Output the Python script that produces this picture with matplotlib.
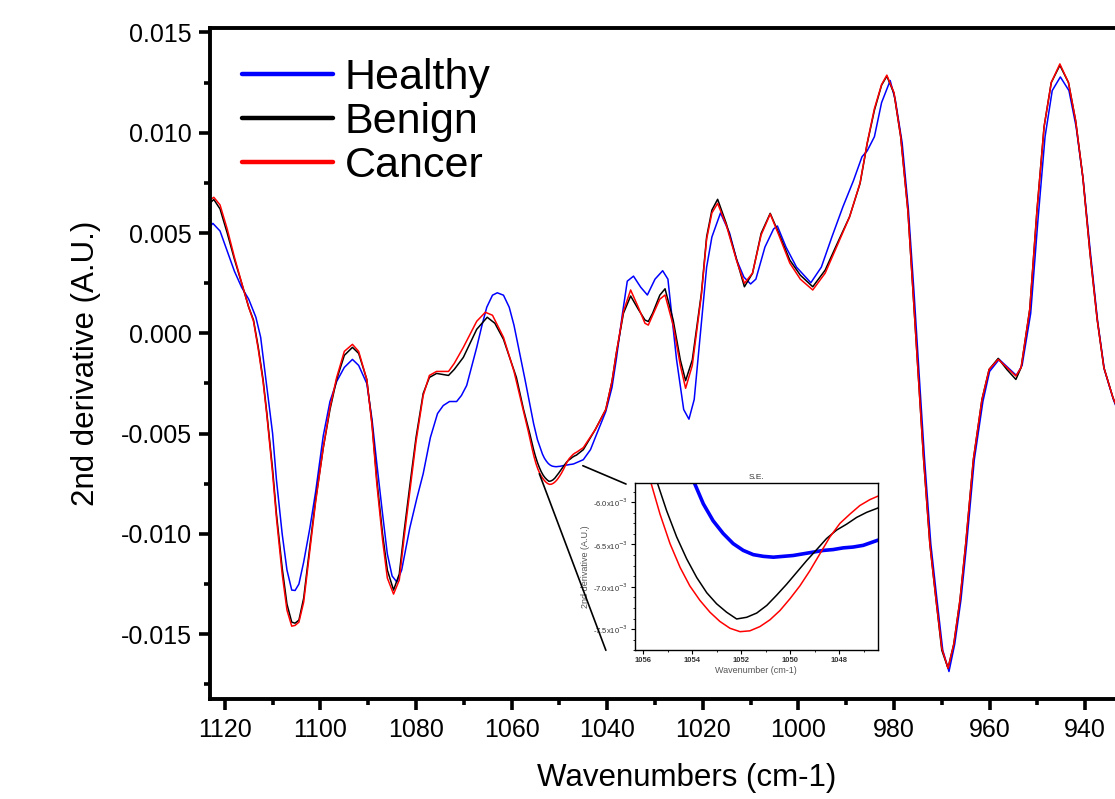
import numpy as np
import matplotlib
matplotlib.use("Agg")
import matplotlib.pyplot as plt
from matplotlib.lines import Line2D
from matplotlib.patches import ConnectionPatch
from matplotlib.ticker import MultipleLocator, FuncFormatter

plt.rcParams['font.family'] = ['Liberation Sans', 'DejaVu Sans']

# ---------------- DATA (wavenumber, 2nd derivative) ----------------
healthy = np.array([
    (1124.0, 0.0051), (1122.5, 0.00548), (1121.0, 0.0051), (1119.5, 0.0041), (1118.0, 0.0031),
    (1116.5, 0.0023), (1115.0, 0.0017), (1113.5, 0.0008), (1112.5, -0.0002), (1111.2, -0.0027),
    (1110.0, -0.0050), (1109.2, -0.0073), (1108.0, -0.0100), (1107.0, -0.0118), (1106.0, -0.0128),
    (1105.3, -0.01282), (1104.5, -0.0125), (1103.5, -0.0114), (1102.2, -0.0097), (1101.0, -0.0079),
    (1099.4, -0.0051), (1098.0, -0.0034), (1096.6, -0.0024), (1095.0, -0.0017), (1093.3, -0.0013),
    (1092.0, -0.0016), (1090.3, -0.0025), (1089.2, -0.0043), (1088.2, -0.0065), (1087.0, -0.0090),
    (1086.0, -0.0110), (1085.0, -0.0121), (1084.0, -0.0124), (1083.0, -0.0118), (1081.3, -0.0097),
    (1079.8, -0.0082), (1078.5, -0.0070), (1077.0, -0.0052), (1075.5, -0.0040), (1074.3, -0.0036),
    (1073.0, -0.0034), (1071.5, -0.0034), (1070.5, -0.0031), (1069.4, -0.0026), (1068.3, -0.0016),
    (1067.3, -0.0007), (1066.2, 0.0004), (1065.2, 0.0013), (1064.0, 0.0019), (1063.0, 0.00202),
    (1061.7, 0.0019), (1060.5, 0.0013), (1059.5, 0.0004), (1058.3, -0.0010), (1057.2, -0.0023),
    (1056.3, -0.0034), (1055.4, -0.0045), (1054.6, -0.0053), (1053.92, -0.00577), (1053.55, -0.00602),
    (1053.15, -0.00622), (1052.74, -0.00637), (1052.33, -0.00649), (1051.92, -0.00657), (1051.51, -0.00662),
    (1051.10, -0.00664), (1050.69, -0.00665), (1050.29, -0.00664), (1049.88, -0.00663), (1049.47, -0.00661),
    (1049.06, -0.00659), (1048.65, -0.00657), (1048.25, -0.00656), (1047.84, -0.00654), (1047.43, -0.00653),
    (1047.02, -0.00651), (1046.43, -0.00645), (1045.0, -0.0063), (1043.5, -0.0058), (1042.5, -0.0052),
    (1040.3, -0.0039), (1039.0, -0.0027), (1038.1, -0.0013), (1036.8, 0.0010), (1035.8, 0.0026),
    (1034.5, 0.00285), (1033.0, 0.0023), (1031.6, 0.00191), (1030.0, 0.0027), (1028.4, 0.00312),
    (1027.3, 0.0027), (1026.3, 0.0005), (1025.5, -0.0013), (1024.0, -0.0038), (1022.9, -0.00428),
    (1021.8, -0.0033), (1020.7, -0.0005), (1019.2, 0.0033), (1018.1, 0.0048), (1016.3, 0.0060),
    (1014.4, 0.0050), (1012.9, 0.00365), (1011.4, 0.0028), (1010.0, 0.00246), (1008.9, 0.0027),
    (1007.0, 0.0043), (1005.2, 0.0052), (1004.4, 0.00535), (1002.6, 0.0043), (1000.4, 0.0033),
    (997.4, 0.00252), (995.2, 0.0033), (993.0, 0.0048), (990.7, 0.0063), (988.5, 0.0076),
    (986.7, 0.0088), (985.6, 0.0091), (984.1, 0.0098), (982.6, 0.0115), (980.8, 0.0126),
    (979.7, 0.0116), (978.3, 0.0095), (977.0, 0.0062), (975.8, 0.0020), (974.7, -0.0022),
    (973.6, -0.0063), (972.3, -0.0105), (971.0, -0.0133), (969.8, -0.0158), (968.5, -0.01686),
    (967.3, -0.0155), (966.0, -0.0133), (964.8, -0.0105), (963.2, -0.0063), (961.4, -0.0034),
    (960.0, -0.0019), (958.0, -0.0013), (956.2, -0.0017), (954.4, -0.0021), (953.2, -0.0016),
    (951.4, 0.0010), (949.9, 0.0056), (948.4, 0.0098), (946.9, 0.0121), (945.2, 0.01278),
    (943.4, 0.0121), (941.9, 0.0103), (940.4, 0.0076), (938.9, 0.0040), (937.4, 0.0006),
    (936.0, -0.0018), (934.1, -0.0033), (932.0, -0.0046),
])

benign = np.array([
    (1124.0, 0.0063), (1122.3, 0.00667), (1121.0, 0.0062), (1119.5, 0.0050), (1118.0, 0.0037),
    (1116.1, 0.0022), (1115.0, 0.0013), (1114.0, 0.00066), (1113.0, -0.0007), (1112.0, -0.0023),
    (1111.2, -0.0040), (1110.0, -0.0068), (1109.2, -0.0090), (1108.0, -0.0117), (1107.0, -0.0135),
    (1106.0, -0.0144), (1105.3, -0.01445), (1104.5, -0.0143), (1103.5, -0.0132), (1102.2, -0.0106),
    (1101.0, -0.0083), (1099.4, -0.0057), (1098.0, -0.0038), (1096.6, -0.0023), (1095.0, -0.0011),
    (1093.3, -0.0007), (1092.0, -0.0010), (1090.3, -0.0023), (1089.2, -0.0045), (1088.2, -0.0073),
    (1087.0, -0.0100), (1086.0, -0.0118), (1084.7, -0.0128), (1083.5, -0.0120), (1082.5, -0.0099),
    (1081.3, -0.0076), (1080.0, -0.0052), (1078.5, -0.0030), (1077.2, -0.0022), (1075.7, -0.0020),
    (1073.2, -0.0021), (1072.0, -0.0018), (1070.1, -0.0012), (1067.3, 0.0002), (1065.1, 0.0008),
    (1063.5, 0.0005), (1061.7, -0.0003), (1059.0, -0.0022), (1057.5, -0.0038), (1056.2, -0.0050),
    (1055.43, -0.00577), (1055.05, -0.0061), (1054.64, -0.00641), (1054.23, -0.00667), (1053.82, -0.00689),
    (1053.41, -0.00707), (1053.01, -0.0072), (1052.60, -0.0073), (1052.19, -0.00738), (1051.78, -0.00736),
    (1051.37, -0.00731), (1050.96, -0.00722), (1050.56, -0.0071), (1050.15, -0.00697), (1049.74, -0.00683),
    (1049.33, -0.00669), (1048.92, -0.00656), (1048.52, -0.00643), (1048.11, -0.00633), (1047.70, -0.00626),
    (1047.29, -0.00618), (1046.88, -0.00612), (1046.43, -0.00607), (1045.0, -0.0058), (1042.5, -0.0048),
    (1040.3, -0.0038), (1039.0, -0.0024), (1038.1, -0.0010), (1036.6, 0.0010), (1035.1, 0.00186),
    (1033.5, 0.0012), (1032.1, 0.00066), (1031.4, 0.00059), (1030.5, 0.0010), (1029.0, 0.0019),
    (1027.9, 0.00222), (1026.2, 0.00066), (1024.7, -0.00133), (1023.6, -0.00236), (1022.2, -0.00133),
    (1020.3, 0.00199), (1019.2, 0.00481), (1018.1, 0.00614), (1016.9, 0.00668), (1015.1, 0.00548),
    (1012.9, 0.00365), (1011.3, 0.00232), (1009.6, 0.00299), (1007.8, 0.00498), (1005.9, 0.00598),
    (1004.1, 0.00498), (1001.8, 0.00365), (999.6, 0.0029), (997.0, 0.00232), (994.4, 0.00315),
    (992.2, 0.00431), (989.3, 0.00581), (987.1, 0.00747), (985.6, 0.00947), (984.1, 0.01112),
    (982.6, 0.01237), (981.5, 0.01282), (980.0, 0.01196), (978.6, 0.0098), (977.1, 0.00614),
    (976.0, 0.00199), (974.9, -0.00216), (973.8, -0.00631), (972.5, -0.0105), (971.2, -0.0133),
    (970.0, -0.0158), (968.7, -0.01669), (967.5, -0.0155), (966.2, -0.0133), (965.0, -0.0105),
    (963.4, -0.0063), (961.6, -0.0033), (960.1, -0.0018), (958.2, -0.00125), (956.4, -0.0018),
    (954.5, -0.0023), (953.4, -0.0017), (951.6, 0.0012), (950.1, 0.0061), (948.6, 0.0103),
    (947.1, 0.0125), (945.3, 0.01336), (943.5, 0.0125), (942.0, 0.0106), (940.5, 0.0078),
    (939.0, 0.0040), (937.5, 0.0007), (936.1, -0.0017), (934.2, -0.0032), (932.0, -0.0045),
])

cancer = np.array([
    (1124.0, 0.0065), (1122.3, 0.00678), (1121.0, 0.0064), (1119.5, 0.0052), (1118.0, 0.0038),
    (1116.1, 0.0022), (1115.0, 0.0013), (1114.0, 0.0006), (1113.0, -0.0008), (1112.0, -0.0024),
    (1111.2, -0.0041), (1110.0, -0.0070), (1109.2, -0.0092), (1108.0, -0.0120), (1107.0, -0.0138),
    (1106.0, -0.0146), (1105.3, -0.01456), (1104.5, -0.0144), (1103.5, -0.0134), (1102.2, -0.0108),
    (1101.0, -0.0084), (1099.4, -0.0057), (1098.0, -0.0037), (1096.6, -0.0022), (1095.0, -0.0009),
    (1093.3, -0.00055), (1092.0, -0.0009), (1090.3, -0.0023), (1089.2, -0.0046), (1088.2, -0.0075),
    (1087.0, -0.0103), (1086.0, -0.0122), (1084.7, -0.0130), (1083.5, -0.0123), (1082.5, -0.0102),
    (1081.3, -0.0079), (1080.0, -0.0054), (1078.5, -0.0031), (1077.2, -0.0021), (1075.7, -0.0019),
    (1073.2, -0.0019), (1072.0, -0.0015), (1070.1, -0.0007), (1067.3, 0.0006), (1065.5, 0.00105),
    (1064.0, 0.0009), (1061.7, -0.0002), (1059.5, -0.0019), (1058.0, -0.0034), (1056.5, -0.0049),
    (1055.69, -0.00577), (1055.32, -0.00614), (1054.91, -0.00649), (1054.50, -0.00677), (1054.10, -0.00699),
    (1053.69, -0.00716), (1053.28, -0.0073), (1052.87, -0.00741), (1052.46, -0.00749), (1052.05, -0.00753),
    (1051.65, -0.00752), (1051.24, -0.00747), (1050.83, -0.00739), (1050.42, -0.00728), (1050.01, -0.00714),
    (1049.61, -0.00699), (1049.20, -0.00681), (1048.79, -0.00661), (1048.38, -0.00641), (1047.97, -0.00625),
    (1047.56, -0.00614), (1047.16, -0.00604), (1046.75, -0.00597), (1046.43, -0.00593), (1045.0, -0.0057),
    (1042.5, -0.0048), (1040.3, -0.0038), (1039.0, -0.0024), (1038.1, -0.0010), (1036.6, 0.0011),
    (1035.1, 0.00216), (1033.5, 0.0013), (1032.1, 0.0005), (1031.4, 0.00041), (1030.5, 0.0009),
    (1029.0, 0.0017), (1027.9, 0.00191), (1026.2, 0.0004), (1024.7, -0.0016), (1023.6, -0.00274),
    (1022.2, -0.0016), (1020.3, 0.0019), (1019.2, 0.0047), (1018.1, 0.0060), (1016.9, 0.00648),
    (1015.1, 0.0054), (1012.9, 0.0036), (1011.3, 0.00249), (1009.6, 0.0030), (1007.8, 0.0049),
    (1005.9, 0.00595), (1004.1, 0.0049), (1001.8, 0.0035), (999.6, 0.0027), (997.0, 0.00216),
    (994.4, 0.0030), (992.2, 0.0042), (989.3, 0.0058), (987.1, 0.0075), (985.6, 0.0095),
    (984.1, 0.0112), (982.6, 0.0124), (981.5, 0.01287), (980.0, 0.0120), (978.6, 0.0098),
    (977.1, 0.0061), (976.0, 0.0020), (974.9, -0.0022), (973.8, -0.0063), (972.5, -0.0105),
    (971.2, -0.0133), (970.0, -0.0157), (968.7, -0.0167), (967.5, -0.0155), (966.2, -0.0133),
    (965.0, -0.0105), (963.4, -0.0063), (961.6, -0.0033), (960.1, -0.0018), (958.2, -0.0013),
    (956.4, -0.0017), (954.5, -0.00213), (953.4, -0.0017), (951.6, 0.0012), (950.1, 0.0061),
    (948.6, 0.0103), (947.1, 0.0125), (945.3, 0.01343), (943.5, 0.0125), (942.0, 0.0106),
    (940.5, 0.0078), (939.0, 0.0040), (937.5, 0.0007), (936.1, -0.0017), (934.2, -0.0032),
    (932.0, -0.0045),
])

series_names = ["Healthy", "Benign", "Cancer"]
series_colors = ["#0000ff", "#000000", "#ff0000"]
x_ticks = [1120, 1100, 1080, 1060, 1040, 1020, 1000, 980, 960, 940]
y_ticks = [-0.015, -0.010, -0.005, 0.000, 0.005, 0.010, 0.015]
inset_x_ticks = [1056, 1054, 1052, 1050, 1048]
inset_y_ticks = [-0.0075, -0.0070, -0.0065, -0.0060]

# ---------------- FIGURE ----------------
W, H = 1115, 799
fig = plt.figure(figsize=(W / 100, H / 100), dpi=100)
ax = fig.add_axes([210 / W, 100 / H, 923 / W, 671 / H])

for data, name, col in zip([healthy, benign, cancer], series_names, series_colors):
    ax.plot(data[:, 0], data[:, 1], color=col, lw=1.1, label=name)

ax.set_xlim(1123.1, 930.0)
ax.set_ylim(-0.01823, 0.01522)
ax.set_xticks(x_ticks)
ax.set_yticks(y_ticks)
ax.xaxis.set_minor_locator(MultipleLocator(10))
ax.yaxis.set_minor_locator(MultipleLocator(0.0025))
ax.yaxis.set_major_formatter(FuncFormatter(lambda v, p: f"{v:.3f}".replace("-0.000", "0.000")))
ax.tick_params(axis='both', which='major', length=8, width=2.6, labelsize=18, direction='out')
ax.tick_params(axis='x', which='major', pad=6)
ax.tick_params(axis='y', which='major', pad=5)
ax.tick_params(axis='both', which='minor', length=4, width=2.6, direction='out')
for sp in ax.spines.values():
    sp.set_linewidth(2.8)

ax.set_xlabel("Wavenumbers (cm-1)", fontsize=22.5)
ax.xaxis.set_label_coords((687 - 210) / 923, -0.095)
ax.set_ylabel("2nd derivative (A.U.)", fontsize=22.5)
ax.yaxis.set_label_coords((101 - 210) / 923, 0.5)

handles = [Line2D([0], [0], color=c, lw=3.2, solid_capstyle='round') for c in series_colors]
ax.legend(handles, series_names, loc='upper left', bbox_to_anchor=(0.035, 0.955),
          frameon=False, fontsize=31, handlelength=2.1, handletextpad=0.28,
          labelspacing=0.09, borderpad=0, borderaxespad=0)

# ---------------- INSET ----------------
axins = fig.add_axes([635 / W, (H - 650.3) / H, 242.7 / W, 167.6 / H])
axins.plot(healthy[:, 0], healthy[:, 1], color="#0000ff", lw=2.6)
axins.plot(benign[:, 0], benign[:, 1], color="#000000", lw=1.1)
axins.plot(cancer[:, 0], cancer[:, 1], color="#ff0000", lw=1.1)
axins.set_xlim(1056.34, 1046.43)
axins.set_ylim(-0.00775, -0.00577)
axins.set_xticks(inset_x_ticks)
axins.set_yticks(inset_y_ticks)
axins.xaxis.set_minor_locator(MultipleLocator(1))
axins.yaxis.set_minor_locator(MultipleLocator(0.000125))
axins.yaxis.set_major_formatter(FuncFormatter(lambda v, p: f"{v * 1e3:.1f}x10$^{{-3}}$"))
axins.tick_params(axis='both', which='major', length=3, width=0.8, labelsize=5.5,
                  labelcolor='#333333', pad=2)
axins.tick_params(axis='both', which='minor', length=1.6, width=0.6)
for lab in axins.get_xticklabels():
    lab.set_fontweight('bold')
for sp in axins.spines.values():
    sp.set_linewidth(1.0)
axins.set_title("S.E.", fontsize=6, color='#333333', pad=3)
axins.set_xlabel("Wavenumber (cm-1)", fontsize=6.5, color='#555555', labelpad=1)
axins.set_ylabel("2nd derivative (A.U.)", fontsize=6.5, color='#555555', labelpad=2)

# connector lines from the zoomed region to the inset
for xyA, xyB in [((1045.1, -0.0066), (-0.037, 0.992)), ((1054.2, -0.0070), (-0.12, 0.0))]:
    con = ConnectionPatch(xyA=xyA, coordsA=ax.transData, xyB=xyB, coordsB=axins.transAxes,
                          color='black', lw=1.2)
    fig.add_artist(con)

fig.savefig("out.png", dpi=100)
